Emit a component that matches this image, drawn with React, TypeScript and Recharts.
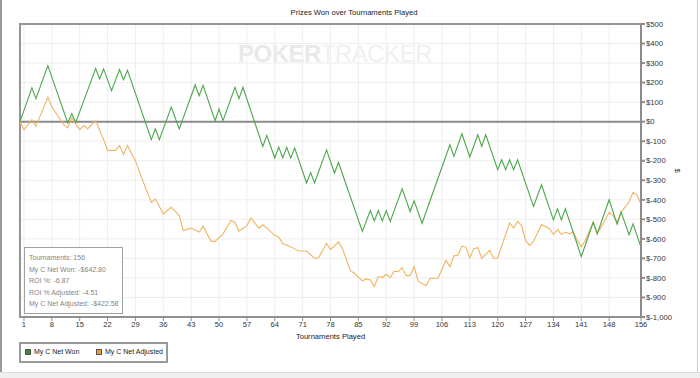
import {
  CartesianGrid,
  Line,
  LineChart,
  ReferenceArea,
  ReferenceLine,
  XAxis,
  YAxis,
} from "recharts";

// turning points of the cumulative curves (tournament number, dollars)
const netWonTournaments = [
  0, 3, 4, 7, 12, 13, 14, 19, 20, 21, 23, 25, 26, 27, 33, 34, 35, 38, 40, 44, 45, 46, 49, 50, 51, 54, 55, 56,
  61, 62, 64, 65, 66, 67, 68, 69, 72, 73, 74, 77, 79, 80, 86, 88, 89, 90, 91, 92, 93, 96, 98, 99, 101, 108,
  109, 111, 113, 115, 116, 117, 120, 121, 122, 123, 124, 125, 129, 131, 134, 135, 136, 137, 141, 144, 145,
  148, 150, 151, 153, 154, 156,
];
const netWonValues = [
  0, 173, 118, 287, -7, 41, -5, 272, 219, 270, 159, 267, 215, 263, -92, -37, -92, 75, -37, 188, 133, 186, 5, 65,
  5, 176, 118, 176, -127, -70, -186, -130, -186, -131, -186, -135, -314, -260, -314, -144, -263, -209, -562,
  -455, -508, -455, -508, -455, -511, -344, -460, -405, -520, -118, -178, -62, -181, -67, -127, -67, -246, -195,
  -246, -195, -246, -195, -434, -323, -503, -446, -503, -446, -691, -515, -574, -400, -525, -463, -579, -523,
  -642.8,
];

const netAdjTournaments = [
  0, 1, 3, 4, 7, 8, 11, 12, 13, 14, 15, 16, 17, 19, 21, 22, 24, 25, 26, 27, 29, 31, 33, 34, 36, 38, 40, 41, 43,
  45, 46, 48, 49, 51, 53, 54, 55, 57, 58, 60, 61, 62, 64, 65, 66, 68, 70, 72, 74, 75, 77, 78, 80, 81, 83, 84, 86,
  87, 88, 89, 90, 91, 92, 93, 94, 95, 96, 97, 98, 99, 100, 102, 103, 105, 107, 108, 109, 110, 111, 112, 113,
  114, 115, 116, 118, 119, 120, 123, 124, 125, 126, 127, 128, 129, 131, 133, 134, 135, 136, 137, 138, 139, 140,
  141, 142, 144, 145, 146, 148, 149, 150, 151, 153, 154, 155, 156,
];
const netAdjValues = [
  0, -41, 10, -24, 125, 75, -15, -32, 19, -10, -41, -20, -36, 5, -92, -147, -147, -122, -168, -122, -201, -311,
  -413, -396, -472, -438, -481, -557, -545, -565, -535, -613, -613, -574, -506, -515, -560, -532, -493, -545,
  -528, -545, -582, -590, -624, -641, -662, -662, -700, -697, -624, -655, -616, -649, -763, -776, -815, -805,
  -810, -844, -793, -798, -781, -798, -765, -768, -747, -788, -788, -742, -815, -840, -802, -802, -709, -743,
  -687, -684, -638, -641, -697, -650, -645, -700, -658, -700, -697, -518, -545, -511, -532, -608, -633, -613,
  -526, -548, -577, -553, -577, -565, -574, -565, -608, -641, -608, -515, -574, -540, -464, -481, -515, -464,
  -410, -362, -376, -422.58,
];

const xTicks = [1, 8, 15, 22, 29, 36, 43, 50, 57, 64, 71, 78, 85, 92, 99, 106, 113, 120, 127, 134, 141, 148, 156];
const yTicks = [-1000, -900, -800, -700, -600, -500, -400, -300, -200, -100, 0, 100, 200, 300, 400, 500];

const seriesNames = ["My C Net Won", "My C Net Adjusted"];
const statLines = [
  "Tournaments: 156",
  "My C Net Won: -$642.80",
  "ROI %: -6.87",
  "ROI % Adjusted: -4.51",
  "My C Net Adjusted: -$422.58",
];

const GREEN = "#4ca64c";
const ORANGE = "#f0b462";
const FONT = "'Liberation Sans', Arial, sans-serif";

const netWonData = netWonTournaments.map((t, i) => ({ t, v: netWonValues[i] }));
const netAdjData = netAdjTournaments.map((t, i) => ({ t, v: netAdjValues[i] }));

function money(v: number) {
  if (v < 0) return `$-${Math.abs(v).toLocaleString("en-US")}`;
  return `$${v.toLocaleString("en-US")}`;
}

export default function App() {
  return (
    <div
      style={{
        position: "fixed",
        left: 0,
        top: 0,
        width: 700,
        height: 378,
        background: "#fff",
        overflow: "hidden",
        fontFamily: FONT,
      }}
    >
      {/* watermark sits under the chart */}
      <div
        style={{
          position: "absolute",
          left: 238,
          top: 40,
          fontSize: 24,
          letterSpacing: -0.5,
          whiteSpace: "nowrap",
          color: "#f0f0f0",
        }}
      >
        <span style={{ fontWeight: 700, color: "#e9e9e9" }}>POKER</span>
        <span>TRACKER</span>
      </div>

      <div
        style={{
          position: "absolute",
          left: 0,
          top: 8,
          width: 700,
          textAlign: "center",
          fontSize: 7.6,
          color: "#222",
          paddingLeft: 4,
        }}
      >
        Prizes Won over Tournaments Played
      </div>

      <div style={{ position: "absolute", left: 0, top: 0 }}>
        <LineChart width={700} height={378} margin={{ top: 24, right: 0, left: 20, bottom: 39 }}>
          <CartesianGrid stroke="#eeeeee" strokeWidth={1} />
          <XAxis
            dataKey="t"
            type="number"
            domain={[0, 156]}
            ticks={xTicks}
            interval={0}
            allowDataOverflow
            height={22}
            stroke="#8c8c8c"
            tickSize={4}
            tickMargin={1}
            tick={{ fontSize: 7.6, fill: "#333", fontFamily: FONT }}
            label={{
              value: "Tournaments Played",
              position: "insideBottom",
              offset: 0,
              style: { fontSize: 7.6, fill: "#222", fontFamily: FONT },
            }}
          />
          <YAxis
            orientation="right"
            type="number"
            domain={[-1000, 500]}
            ticks={yTicks}
            interval={0}
            width={59}
            stroke="#8c8c8c"
            strokeWidth={2}
            tickSize={4}
            tickMargin={1}
            tickFormatter={money}
            tick={{ fontSize: 7.7, fill: "#333", fontFamily: FONT }}
          />
          <ReferenceArea
            x1={0}
            x2={156}
            y1={-1000}
            y2={500}
            fill="none"
            fillOpacity={0}
            stroke="#949494"
            strokeWidth={2}
          />
          <ReferenceLine y={0} stroke="#8a8a8a" strokeWidth={2} />
          <Line
            data={netAdjData}
            dataKey="v"
            name={seriesNames[1]}
            type="linear"
            stroke={ORANGE}
            strokeWidth={1.1}
            dot={false}
            isAnimationActive={false}
          />
          <Line
            data={netWonData}
            dataKey="v"
            name={seriesNames[0]}
            type="linear"
            stroke={GREEN}
            strokeWidth={1.1}
            dot={false}
            isAnimationActive={false}
          />
        </LineChart>
      </div>

      {/* y axis unit */}
      <div
        style={{
          position: "absolute",
          left: 675,
          top: 166,
          fontSize: 7.6,
          color: "#333",
          transform: "rotate(90deg)",
        }}
      >
        $
      </div>

      {/* stats box */}
      <div
        style={{
          position: "absolute",
          left: 24,
          top: 247,
          width: 93,
          height: 61,
          border: "1px solid #a0a0a0",
          background: "#fff",
          paddingTop: 4,
          paddingLeft: 4,
          boxSizing: "content-box",
          fontSize: 7,
          lineHeight: "11.6px",
          color: "#858585",
        }}
      >
        {statLines.map((s) => (
          <div key={s} style={{ whiteSpace: "nowrap" }}>
            {s}
          </div>
        ))}
      </div>

      {/* legend */}
      <div
        style={{
          position: "absolute",
          left: 19,
          top: 342,
          width: 145,
          height: 17,
          border: "2px solid #9a9a9a",
          fontSize: 7,
          color: "#222",
        }}
      >
        {seriesNames.map((name, i) => (
          <div
            key={name}
            style={{
              position: "absolute",
              left: i === 0 ? 4 : 75,
              top: 4,
              display: "flex",
              alignItems: "center",
              whiteSpace: "nowrap",
            }}
          >
            <span
              style={{
                display: "inline-block",
                width: 4,
                height: 4,
                border: "1px solid #555",
                background: i === 0 ? "#2f8f2f" : "#ee9a30",
                marginRight: 3,
              }}
            />
            {name}
          </div>
        ))}
      </div>

      {/* window frame */}
      <div style={{ position: "absolute", left: 0, top: 0, width: 2, height: 372, background: "#9a9a9a" }} />
      <div style={{ position: "absolute", left: 697, top: 0, width: 1, height: 372, background: "#d0d0d0" }} />
      <div
        style={{
          position: "absolute",
          left: 0,
          top: 372,
          width: 700,
          height: 6,
          background: "#f0f0f0",
          borderTop: "1px solid #dadada",
        }}
      />
    </div>
  );
}
